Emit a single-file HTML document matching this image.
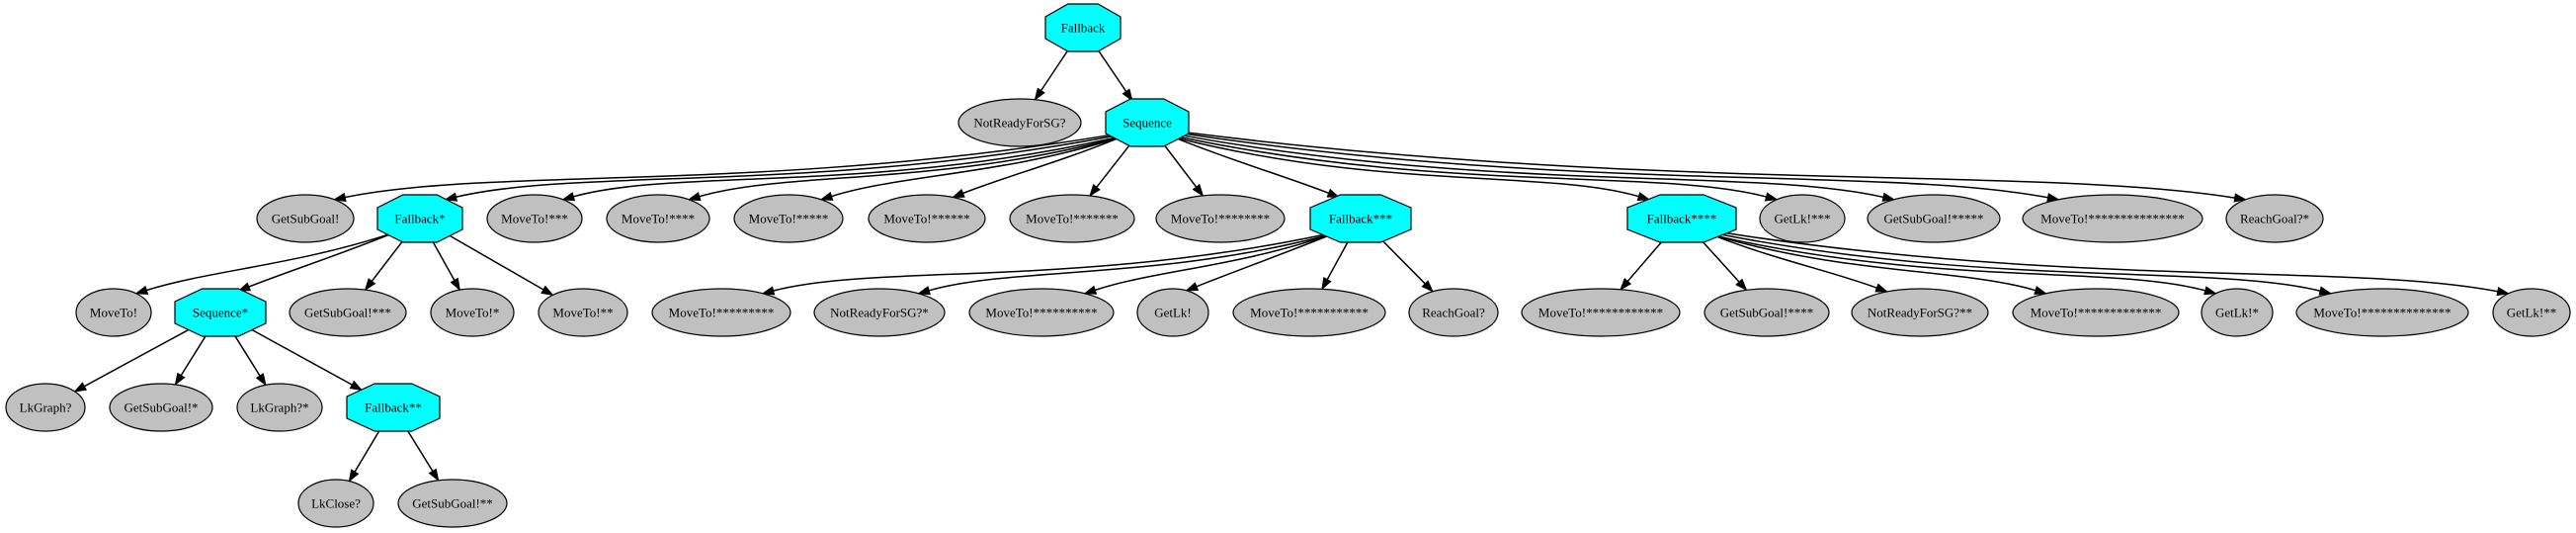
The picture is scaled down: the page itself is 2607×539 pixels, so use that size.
<!DOCTYPE html>
<html><head><meta charset="utf-8"><style>
html,body{margin:0;padding:0;background:#fff;width:2607px;height:539px;overflow:hidden}
svg text{font-family:"Liberation Serif",serif;font-size:13px;text-anchor:middle;dominant-baseline:central}
</style></head><body>
<svg id="g" width="2607" height="539" xmlns="http://www.w3.org/2000/svg"></svg>
<script>
var R=[28,124,221,316,412,509];
var N={
root:["Fallback",1096,0,38,1],
nr:["NotReadyForSG?",1032,1,62,0],
seq:["Sequence",1161,1,42,1],
gs:["GetSubGoal!",309,2,49,0],
fb1:["Fallback*",425,2,43,1],
m3:["MoveTo!***",541,2,48,0],
m4:["MoveTo!****",666,2,52,0],
m5:["MoveTo!*****",798,2,55,0],
m6:["MoveTo!******",938,2,59,0],
m7:["MoveTo!*******",1085,2,63,0],
m8:["MoveTo!********",1235,2,65,0],
fb3:["Fallback***",1377,2,51,1],
fb4:["Fallback****",1702,2,55,1],
gl3:["GetLk!***",1824,2,43,0],
gs5:["GetSubGoal!*****",1957,2,67,0],
m15:["MoveTo!***************",2138,2,91,0],
rg1:["ReachGoal?*",2302,2,49,0],
m0:["MoveTo!",115,3,38,0],
sq1:["Sequence*",223,3,46,1],
gs3:["GetSubGoal!***",352,3,59,0],
m1:["MoveTo!*",478,3,42,0],
m2:["MoveTo!**",590,3,45,0],
m9:["MoveTo!*********",730,3,70,0],
nr1:["NotReadyForSG?*",890,3,66,0],
m10:["MoveTo!**********",1054,3,73,0],
gl:["GetLk!",1187,3,36,0],
m11:["MoveTo!***********",1325,3,77,0],
rg:["ReachGoal?",1471,3,45,0],
m12:["MoveTo!************",1620,3,80,0],
gs4:["GetSubGoal!****",1788,3,63,0],
nr2:["NotReadyForSG?**",1943,3,69,0],
m13:["MoveTo!*************",2121,3,84,0],
gl1:["GetLk!*",2264,3,36,0],
m14:["MoveTo!**************",2411,3,87,0],
gl2:["GetLk!**",2562,3,39,0],
lg:["LkGraph?",46,4,40,0],
gs1:["GetSubGoal!*",163,4,52,0],
lg1:["LkGraph?*",283,4,43,0],
fb2:["Fallback**",398,4,47,1],
lc:["LkClose?",340,5,38,0],
gs2:["GetSubGoal!**",458,5,55,0]
};
var E={root:["nr","seq"],seq:["gs","fb1","m3","m4","m5","m6","m7","m8","fb3","fb4","gl3","gs5","m15","rg1"],
fb1:["m0","sq1","gs3","m1","m2"],sq1:["lg","gs1","lg1","fb2"],fb2:["lc","gs2"],
fb3:["m9","nr1","m10","gl","m11","rg"],fb4:["m12","gs4","nr2","m13","gl1","m14","gl2"]};
var s="",RY=24;
function bpt(n,ux,uy){var rx=N[n][3];var k=1/Math.sqrt(ux*ux/(rx*rx)+uy*uy/(RY*RY));return [N[n][1]+ux*k,R[N[n][2]]+uy*k];}
function lerp(a,b,t){return a+(b-a)*t;}
for(var p in E){E[p].forEach(function(c){
 var px=N[p][1],py=R[N[p][2]],cx=N[c][1],cy=R[N[c][2]];
 var f=Math.max(0,Math.min(1,(Math.abs(cx-px)-180)/400));
 var dx=cx-px,dy=(cy-py)*(1+2*f);
 var L=Math.hypot(dx,dy);var S=bpt(p,dx/L,dy/L);
 var Ex,Ey;
 if(f<=0){var q=bpt(c,-(cx-px)/Math.hypot(cx-px,cy-py),-(cy-py)/Math.hypot(cx-px,cy-py));Ex=q[0];Ey=q[1];}
 else{var ex=-Math.max(-0.6,Math.min(0.6,(cx-px)/500))*N[c][3];
 var ey=-RY*Math.sqrt(1-(ex/N[c][3])*(ex/N[c][3]));Ex=cx+ex;Ey=cy+ey;}
 var DX=Ex-S[0],DY=Ey-S[1];
 var c1x=lerp(S[0]+DX/3,S[0]+DX*0.45,f),c1y=lerp(S[1]+DY/3,S[1]+DY*0.9,f);
 var c2x=lerp(S[0]+DX*2/3,Ex-DX*0.2,f),c2y=lerp(S[1]+DY*2/3,Ey-DY*0.5,f);
 var vx=Ex-c2x,vy=Ey-c2y,vl=Math.hypot(vx,vy);vx/=vl;vy/=vl;
 var bx=Ex-vx*11,by=Ey-vy*11;
 s+='<path d="M'+S[0]+','+S[1]+' C'+c1x+','+c1y+' '+c2x+','+c2y+' '+bx+','+by+'" fill="none" stroke="#000" stroke-width="1.5"/>';
 s+='<polygon points="'+Ex+','+Ey+' '+(bx-vy*4)+','+(by+vx*4)+' '+(bx+vy*4)+','+(by-vx*4)+'" fill="#000" stroke="#000"/>';
});}
for(var n in N){var d=N[n],x=d[1],y=R[d[2]],w=d[3];
 if(d[4]){var a=w*0.4,h=RY,b=RY*0.46;
  s+='<polygon points="'+(x-a)+','+(y-h)+' '+(x+a)+','+(y-h)+' '+(x+w)+','+(y-b)+' '+(x+w)+','+(y+b)+' '+(x+a)+','+(y+h)+' '+(x-a)+','+(y+h)+' '+(x-w)+','+(y+b)+' '+(x-w)+','+(y-b)+'" fill="#00ffff" stroke="#000" stroke-width="1.2"/>';}
 else s+='<ellipse cx="'+x+'" cy="'+y+'" rx="'+w+'" ry="'+RY+'" fill="#c0c0c0" stroke="#000" stroke-width="1.2"/>';
 s+='<text x="'+x+'" y="'+y+'">'+d[0]+'</text>';}
document.getElementById("g").innerHTML=s;
</script>
</body></html>
